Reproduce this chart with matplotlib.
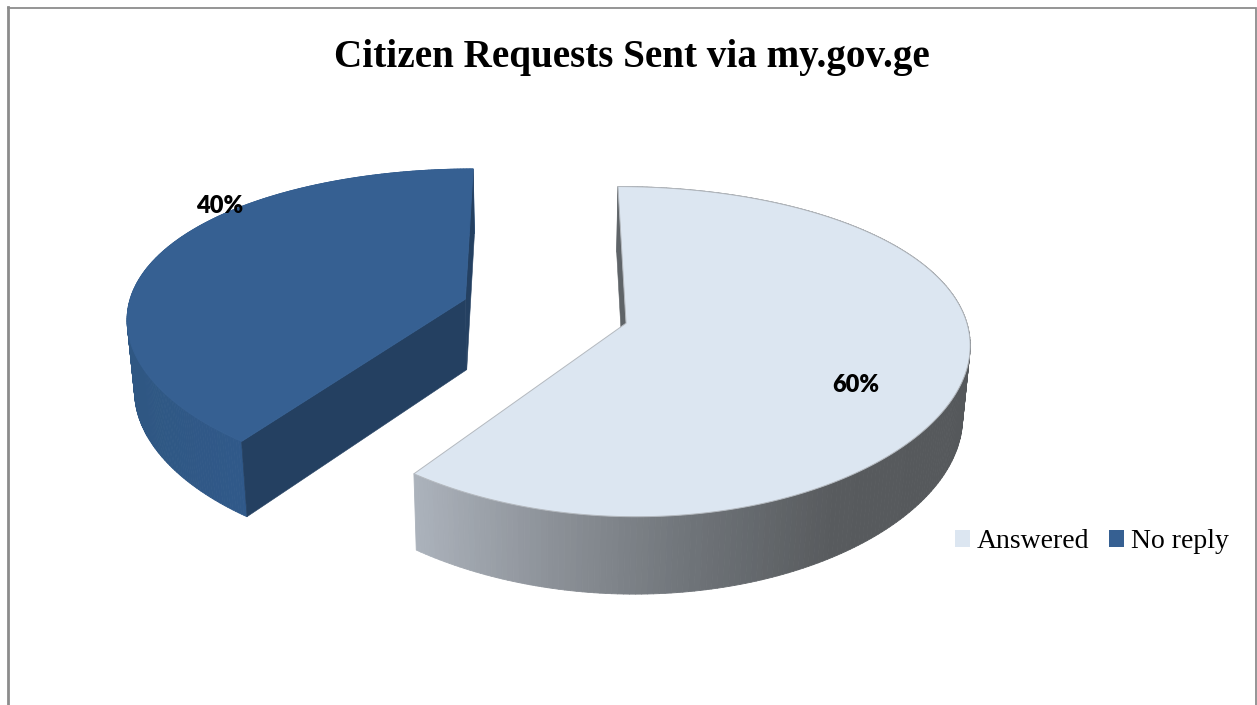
#!/usr/bin/env python3
"""Exploded 3D pie of citizen requests sent via my.gov.ge."""

import numpy as np
import matplotlib

matplotlib.use("Agg")
import matplotlib.pyplot as plt
from matplotlib.collections import PolyCollection
from matplotlib.colors import LinearSegmentedColormap
from matplotlib.patches import Patch, Polygon

TITLE = "Citizen Requests Sent via my.gov.ge"
LABELS = ["Answered", "No reply"]
SHARES = [60, 40]
TOP_COLORS = ["#DCE6F1", "#366092"]

WIDTH, HEIGHT = 1257, 705

# scene geometry, in pixels of the canvas
CENTER_X, CENTER_Y = 545, 311
RADIUS_X, RADIUS_Y = 338, 156
PERSPECTIVE_X, PERSPECTIVE_Y = 0.11, 0.17
EXPLODE = 0.25
DEPTH = 71
START_ANGLE = 90
CAMERA_Y = -4.0


def project(x, y, z=0.0):
    """Map pie-plane coordinates to the canvas; z=1 is the underside."""
    dx = 1 + PERSPECTIVE_X * y
    dy = 1 + PERSPECTIVE_Y * y
    px = CENTER_X + RADIUS_X * x / dx * (1 - 0.018 * z)
    py = CENTER_Y - RADIUS_Y * y / dy + z * (DEPTH + 35 * (1 - dy))
    return np.column_stack([px, py])


def slice_geometry(theta1, theta2):
    mid = np.radians((theta1 + theta2) / 2)
    ox, oy = EXPLODE * np.cos(mid), EXPLODE * np.sin(mid)
    t = np.radians(np.linspace(theta1, theta2, 240))
    return ox, oy, ox + np.cos(t), oy + np.sin(t)


def faces_camera(ox, oy, normal_deg):
    n = np.radians(normal_deg)
    return np.cos(n) * (0 - ox) + np.sin(n) * (CAMERA_Y - oy) > 0


def draw_rim(ax, rim_top, rim_low, stops, x0, x1, zorder):
    # one narrow quad per arc step, shaded by its horizontal position
    cmap = LinearSegmentedColormap.from_list("shade", stops)
    quads = [
        [rim_top[i], rim_top[i + 1], rim_low[i + 1], rim_low[i]]
        for i in range(len(rim_top) - 1)
    ]
    mean_x = np.array([np.mean(np.array(q)[:, 0]) for q in quads])
    colors = cmap(np.clip((mean_x - x0) / (x1 - x0), 0, 1))
    ax.add_collection(PolyCollection(quads, facecolors=colors, edgecolors=colors, linewidths=0.6, zorder=zorder))


def draw_slice(ax, theta1, theta2, top_color, edge_color, rim_stops, x0, x1, wall_color, zorder):
    ox, oy, xs, ys = slice_geometry(theta1, theta2)
    rim_top = project(xs, ys)
    rim_low = project(xs, ys, 1.0)
    apex_top = project(np.array([ox]), np.array([oy]))
    apex_low = project(np.array([ox]), np.array([oy]), 1.0)

    draw_rim(ax, rim_top, rim_low, rim_stops, x0, x1, zorder)

    # flat cut faces, only the ones turned towards the viewer
    for i, normal in ((0, theta1 - 90), (-1, theta2 + 90)):
        if faces_camera(ox, oy, normal):
            face = np.vstack([rim_top[i], apex_top, apex_low, rim_low[i]])
            ax.add_patch(Polygon(face, closed=True, fc=wall_color, ec=wall_color, lw=0.4, zorder=zorder + 1))

    top = np.vstack([apex_top, rim_top])
    ax.add_patch(Polygon(top, closed=True, fc=top_color, ec=edge_color, lw=0.7, zorder=zorder + 2))


fig = plt.figure(figsize=(WIDTH / 100, HEIGHT / 100), dpi=100)
ax = fig.add_axes([0, 0, 1, 1])
ax.set_xlim(0, WIDTH)
ax.set_ylim(HEIGHT, 0)
ax.axis("off")

# frame runs off the bottom of the canvas
ax.plot([8, 8], [HEIGHT, 7], color="#8C8C8C", lw=2.0)
ax.plot([8, 1256, 1256], [7.5, 7.5, HEIGHT], color="#8C8C8C", lw=1.3, solid_joinstyle="miter")

sweeps = np.array(SHARES) / sum(SHARES) * 360
answered_end = START_ANGLE - sweeps[0]
draw_slice(
    ax, answered_end, START_ANGLE, TOP_COLORS[0], "#B4B9BF",
    ["#AEB5BE", "#8D9299", "#6F7479", "#585B5E", "#55585B"], 405, 975, "#5F6468", 3,
)
draw_slice(
    ax, START_ANGLE, START_ANGLE + sweeps[1], TOP_COLORS[1], TOP_COLORS[1],
    ["#2F5782", "#30598A"], 125, 250, "#244061", 7,
)

label_font = dict(family="Lato", fontsize=17, fontweight="heavy", color="black", ha="center", va="center", zorder=12)
ax.text(856, 385, f"{SHARES[0]}%", **label_font)
ax.text(220, 206, f"{SHARES[1]}%", **label_font)

ax.text(632, 58, TITLE, family="Liberation Serif", fontsize=28.2, fontweight="bold", ha="center", va="center", color="black")

handles = [Patch(fc=c, ec="none") for c in TOP_COLORS]
ax.legend(
    handles, LABELS, ncol=2, frameon=False,
    loc="center left", bbox_to_anchor=(955 / WIDTH, 1 - 542 / HEIGHT),
    prop=dict(family="Liberation Serif", size=20),
    handlelength=0.54, handleheight=0.54, handletextpad=0.25, columnspacing=0.7, borderpad=0, borderaxespad=0,
)

fig.savefig("out.png", dpi=100)
